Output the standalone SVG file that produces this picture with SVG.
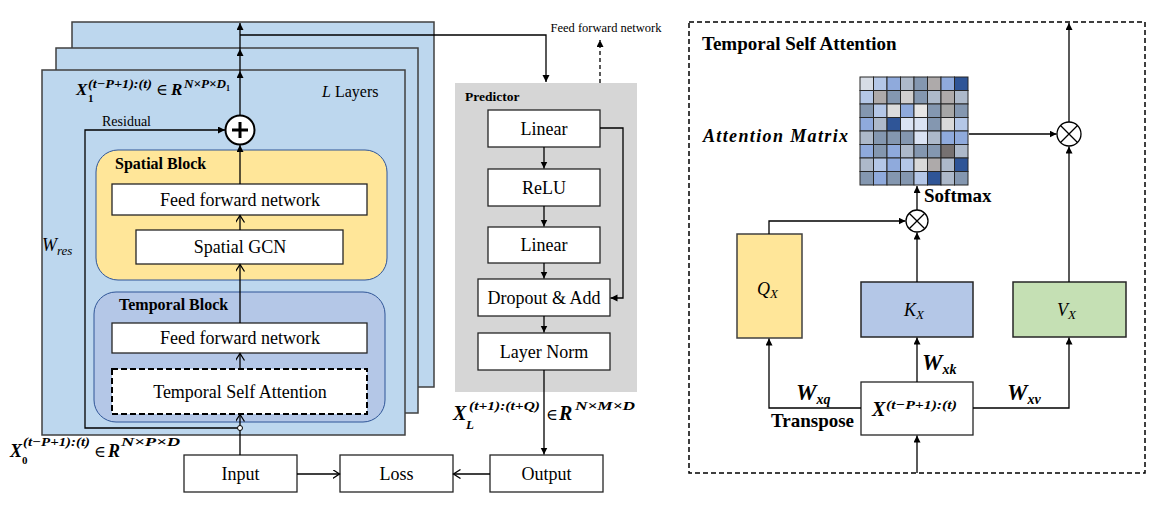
<svg xmlns="http://www.w3.org/2000/svg" width="1154" height="518" viewBox="0 0 1154 518">
<style>
.layer{fill:#BDD7EE;stroke:#404040;stroke-width:1.5}
.box{fill:#fff;stroke:#262626;stroke-width:1.3}
.t{font-family:"Liberation Serif",serif;font-size:18px;text-anchor:middle;fill:#000}
.s{font-family:"Liberation Serif",serif;fill:#000}
.el{font-family:"DejaVu Serif",serif;font-size:16px;fill:#000}
.b{font-weight:bold}
.i{font-style:italic}
.ln{stroke:#000;stroke-width:1.3;fill:none}
.fa{marker-end:url(#af)}
.oa{marker-end:url(#ao)}
.grid rect{stroke:#262626;stroke-width:1}
</style>
<defs>
<marker id="af" markerUnits="userSpaceOnUse" markerWidth="8" markerHeight="8" refX="7" refY="3.5" orient="auto"><path d="M0,0 L7,3.5 L0,7 z" fill="#000"/></marker>
<marker id="ao" markerUnits="userSpaceOnUse" markerWidth="9" markerHeight="10" refX="7" refY="4.5" orient="auto"><path d="M0,0 L7,4.5 L0,9" fill="none" stroke="#000" stroke-width="1.3"/></marker>
</defs>
<rect width="1154" height="518" fill="#fff"/>

<g id="layers">
<rect class="layer" x="72" y="22" width="362" height="365"/>
<rect class="layer" x="56" y="48" width="362" height="365"/>
<rect class="layer" x="42" y="70" width="363" height="365"/>
</g>

<g id="layer-labels">
<text class="s i" x="322" y="97" font-size="16">L<tspan font-style="normal"> Layers</tspan></text>
<text class="s" x="102" y="126" font-size="14">Residual</text>
<text class="s i" x="42" y="251" font-size="18">W<tspan font-size="13" dy="4">res</tspan></text>
<text class="s b i" x="76" y="95" font-size="17">X</text>
<text class="s b" x="88" y="102" font-size="11">1</text>
<text class="s b i" x="88" y="88" font-size="12.5" textLength="64" lengthAdjust="spacingAndGlyphs">(t−P+1):(t)</text>
<text class="el" x="156" y="95">∈</text>
<text class="s b i" x="171" y="95" font-size="17">R</text>
<text class="s b i" x="184" y="88" font-size="12.5" textLength="42" lengthAdjust="spacingAndGlyphs">N×P×D</text>
<text class="s b" x="226" y="91" font-size="8">1</text>
</g>

<g id="plus">
<circle cx="240" cy="130" r="14.5" fill="#fff" stroke="#000" stroke-width="2"/>
<path d="M232,130 H248 M240,122 V138" stroke="#000" stroke-width="3"/>
</g>

<g id="spatial-block">
<rect x="96" y="150" width="291" height="130" rx="22" fill="#FFE699" stroke="#2F5597" stroke-width="1"/>
<text class="s b" x="115" y="169" font-size="16">Spatial Block</text>
</g>
<g id="spatial-ffn"><rect class="box" x="112" y="184" width="255" height="31"/><text class="t" x="240" y="206">Feed forward network</text></g>
<g id="spatial-gcn"><rect class="box" x="136" y="230" width="207" height="34"/><text class="t" x="240" y="253">Spatial GCN</text></g>

<g id="temporal-block">
<rect x="94" y="292" width="291" height="130" rx="22" fill="#B4C7E7" stroke="#2F5597" stroke-width="1"/>
<text class="s b" x="119" y="310" font-size="16">Temporal Block</text>
</g>
<g id="temporal-ffn"><rect class="box" x="112" y="323" width="255" height="30"/><text class="t" x="240" y="344">Feed forward network</text></g>
<g id="tsa-box"><rect x="112" y="369" width="255" height="45" fill="#fff" stroke="#000" stroke-width="2" stroke-dasharray="6,3"/><text class="t" x="240" y="398">Temporal Self Attention</text></g>

<g id="x0-label">
<text class="s b i" x="10" y="457" font-size="18">X</text>
<text class="s b" x="22" y="464" font-size="11">0</text>
<text class="s b i" x="23" y="446" font-size="12.5" textLength="67" lengthAdjust="spacingAndGlyphs">(t−P+1):(t)</text>
<text class="el" x="94" y="457">∈</text>
<text class="s b i" x="108" y="457" font-size="18">R</text>
<text class="s b i" x="121" y="446" font-size="12.5" textLength="59" lengthAdjust="spacingAndGlyphs">N×P×D</text>
</g>

<g id="input"><rect class="box" x="184" y="455" width="113" height="37"/><text class="t" x="240.5" y="480">Input</text></g>
<g id="loss"><rect class="box" x="340" y="455" width="113" height="37"/><text class="t" x="396.5" y="480">Loss</text></g>
<g id="output"><rect class="box" x="490" y="455" width="113" height="37"/><text class="t" x="546.5" y="480">Output</text></g>

<g id="predictor">
<rect x="455" y="83" width="182" height="309" fill="#D6D6D6"/>
<text class="s b" x="465" y="101" font-size="13.5">Predictor</text>
</g>
<g id="p-linear1"><rect class="box" x="488" y="110" width="112" height="37"/><text class="t" x="544" y="134.5">Linear</text></g>
<g id="p-relu"><rect class="box" x="488" y="169" width="112" height="37"/><text class="t" x="544" y="193.5">ReLU</text></g>
<g id="p-linear2"><rect class="box" x="488" y="227" width="112" height="36"/><text class="t" x="544" y="251">Linear</text></g>
<g id="p-dropout"><rect class="box" x="478" y="279" width="132" height="37"/><text class="t" x="544" y="303.5">Dropout &amp; Add</text></g>
<g id="p-norm"><rect class="box" x="478" y="333" width="132" height="37"/><text class="t" x="544" y="357.5">Layer Norm</text></g>
<text class="s" x="606" y="32" font-size="12.5" text-anchor="middle">Feed forward network</text>

<g id="xl-label">
<text class="s b i" x="453" y="420" font-size="20">X</text>
<text class="s b i" x="466" y="429" font-size="13">L</text>
<text class="s b i" x="469" y="410" font-size="13" textLength="71" lengthAdjust="spacingAndGlyphs">(t+1):(t+Q)</text>
<text class="el" x="546" y="420">∈</text>
<text class="s b i" x="559" y="420" font-size="20">R</text>
<text class="s b i" x="575" y="410" font-size="13" textLength="60" lengthAdjust="spacingAndGlyphs">N×M×D</text>
</g>

<g id="tsa-panel">
<rect x="689" y="22" width="456" height="451" fill="none" stroke="#000" stroke-width="1.5" stroke-dasharray="5,3"/>
<text class="s b" x="702" y="50" font-size="19">Temporal Self Attention</text>
</g>

<g id="attention-matrix" class="grid">
<rect x="860" y="77" width="13.5" height="13.5" fill="#D6DCE5"/><rect x="873.5" y="77" width="13.5" height="13.5" fill="#B4C7E7"/><rect x="887" y="77" width="13.5" height="13.5" fill="#8FAADC"/><rect x="900.5" y="77" width="13.5" height="13.5" fill="#ADB9CA"/><rect x="914" y="77" width="13.5" height="13.5" fill="#8497B0"/><rect x="927.5" y="77" width="13.5" height="13.5" fill="#AEAAAA"/><rect x="941" y="77" width="13.5" height="13.5" fill="#8FAADC"/><rect x="954.5" y="77" width="13.5" height="13.5" fill="#2F5597"/>
<rect x="860" y="90.5" width="13.5" height="13.5" fill="#B4C7E7"/><rect x="873.5" y="90.5" width="13.5" height="13.5" fill="#AEAAAA"/><rect x="887" y="90.5" width="13.5" height="13.5" fill="#8497B0"/><rect x="900.5" y="90.5" width="13.5" height="13.5" fill="#D0CECE"/><rect x="914" y="90.5" width="13.5" height="13.5" fill="#8497B0"/><rect x="927.5" y="90.5" width="13.5" height="13.5" fill="#ADB9CA"/><rect x="941" y="90.5" width="13.5" height="13.5" fill="#AEAAAA"/><rect x="954.5" y="90.5" width="13.5" height="13.5" fill="#ADB9CA"/>
<rect x="860" y="104" width="13.5" height="13.5" fill="#8497B0"/><rect x="873.5" y="104" width="13.5" height="13.5" fill="#B4C7E7"/><rect x="887" y="104" width="13.5" height="13.5" fill="#DCDCDC"/><rect x="900.5" y="104" width="13.5" height="13.5" fill="#8FAADC"/><rect x="914" y="104" width="13.5" height="13.5" fill="#E7E6E6"/><rect x="927.5" y="104" width="13.5" height="13.5" fill="#8497B0"/><rect x="941" y="104" width="13.5" height="13.5" fill="#A6A6A6"/><rect x="954.5" y="104" width="13.5" height="13.5" fill="#8497B0"/>
<rect x="860" y="117.5" width="13.5" height="13.5" fill="#8FAADC"/><rect x="873.5" y="117.5" width="13.5" height="13.5" fill="#ADB9CA"/><rect x="887" y="117.5" width="13.5" height="13.5" fill="#2F5597"/><rect x="900.5" y="117.5" width="13.5" height="13.5" fill="#DAE3F3"/><rect x="914" y="117.5" width="13.5" height="13.5" fill="#DAE3F3"/><rect x="927.5" y="117.5" width="13.5" height="13.5" fill="#8497B0"/><rect x="941" y="117.5" width="13.5" height="13.5" fill="#D9D9D9"/><rect x="954.5" y="117.5" width="13.5" height="13.5" fill="#B4C7E7"/>
<rect x="860" y="131" width="13.5" height="13.5" fill="#ADB9CA"/><rect x="873.5" y="131" width="13.5" height="13.5" fill="#8497B0"/><rect x="887" y="131" width="13.5" height="13.5" fill="#8497B0"/><rect x="900.5" y="131" width="13.5" height="13.5" fill="#8497B0"/><rect x="914" y="131" width="13.5" height="13.5" fill="#DAE3F3"/><rect x="927.5" y="131" width="13.5" height="13.5" fill="#ADB9CA"/><rect x="941" y="131" width="13.5" height="13.5" fill="#8FAADC"/><rect x="954.5" y="131" width="13.5" height="13.5" fill="#8FAADC"/>
<rect x="860" y="144.5" width="13.5" height="13.5" fill="#8FAADC"/><rect x="873.5" y="144.5" width="13.5" height="13.5" fill="#8497B0"/><rect x="887" y="144.5" width="13.5" height="13.5" fill="#8FAADC"/><rect x="900.5" y="144.5" width="13.5" height="13.5" fill="#ADB9CA"/><rect x="914" y="144.5" width="13.5" height="13.5" fill="#8497B0"/><rect x="927.5" y="144.5" width="13.5" height="13.5" fill="#8497B0"/><rect x="941" y="144.5" width="13.5" height="13.5" fill="#767171"/><rect x="954.5" y="144.5" width="13.5" height="13.5" fill="#ADB9CA"/>
<rect x="860" y="158" width="13.5" height="13.5" fill="#ADB9CA"/><rect x="873.5" y="158" width="13.5" height="13.5" fill="#B4C7E7"/><rect x="887" y="158" width="13.5" height="13.5" fill="#8FAADC"/><rect x="900.5" y="158" width="13.5" height="13.5" fill="#B4C7E7"/><rect x="914" y="158" width="13.5" height="13.5" fill="#D9D9D9"/><rect x="927.5" y="158" width="13.5" height="13.5" fill="#AEAAAA"/><rect x="941" y="158" width="13.5" height="13.5" fill="#ADB9CA"/><rect x="954.5" y="158" width="13.5" height="13.5" fill="#2F5597"/>
<rect x="860" y="171.5" width="13.5" height="13.5" fill="#8497B0"/><rect x="873.5" y="171.5" width="13.5" height="13.5" fill="#8FAADC"/><rect x="887" y="171.5" width="13.5" height="13.5" fill="#8497B0"/><rect x="900.5" y="171.5" width="13.5" height="13.5" fill="#8497B0"/><rect x="914" y="171.5" width="13.5" height="13.5" fill="#B4C7E7"/><rect x="927.5" y="171.5" width="13.5" height="13.5" fill="#2F5597"/><rect x="941" y="171.5" width="13.5" height="13.5" fill="#ADB9CA"/><rect x="954.5" y="171.5" width="13.5" height="13.5" fill="#8497B0"/>
</g>
<text class="s b i" x="703" y="142" font-size="18" textLength="145" lengthAdjust="spacing">Attention Matrix</text>
<text class="s b" x="924" y="202" font-size="19">Softmax</text>

<g id="mul-softmax">
<circle cx="917" cy="221" r="11" fill="#fff" stroke="#000" stroke-width="1.3"/>
<path d="M909.2,213.2 L924.8,228.8 M924.8,213.2 L909.2,228.8" stroke="#000" stroke-width="1.3"/>
</g>
<g id="mul-value">
<circle cx="1069" cy="134" r="12" fill="#fff" stroke="#000" stroke-width="1.3"/>
<path d="M1060.5,125.5 L1077.5,142.5 M1077.5,125.5 L1060.5,142.5" stroke="#000" stroke-width="1.3"/>
</g>

<g id="q-box"><rect x="737" y="234" width="65" height="104" fill="#FFE699" stroke="#404040" stroke-width="1.5"/><text class="s i" x="757" y="295" font-size="18">Q<tspan font-size="13" dy="3">X</tspan></text></g>
<g id="k-box"><rect x="861" y="282" width="112" height="55" fill="#B4C7E7" stroke="#262626" stroke-width="1.5"/><text class="s i" x="904" y="316" font-size="18">K<tspan font-size="13" dy="3">X</tspan></text></g>
<g id="v-box"><rect x="1013" y="282" width="113" height="55" fill="#C5E0B4" stroke="#262626" stroke-width="1.5"/><text class="s i" x="1057" y="316" font-size="18">V<tspan font-size="13" dy="3">X</tspan></text></g>
<g id="x-box"><rect class="box" x="861" y="382" width="112" height="53"/>
<text class="s b i" x="872" y="416" font-size="20">X</text>
<text class="s b i" x="886" y="409" font-size="13" textLength="71" lengthAdjust="spacingAndGlyphs">(t−P+1):(t)</text>
</g>

<g id="weight-labels">
<text class="s b i" x="796" y="400" font-size="23">W<tspan font-size="14" dy="4">xq</tspan></text>
<text class="s b i" x="922" y="370" font-size="23">W<tspan font-size="14" dy="4">xk</tspan></text>
<text class="s b i" x="1007" y="400" font-size="23">W<tspan font-size="14" dy="4">xv</tspan></text>
<text class="s b" x="771" y="427" font-size="19">Transpose</text>
</g>

<g id="connectors">
<path class="ln fa" d="M240,115.5 V71"/>
<path class="ln fa" d="M240,71 V49"/>
<path class="ln fa" d="M240,49 V23"/>
<path class="ln fa" d="M240,35 H546 V82"/>
<path class="ln fa" d="M600,83 V40" stroke-dasharray="4,3"/>
<path class="ln fa" d="M240,184 V145"/>
<path class="ln oa" d="M240,230 V215.5"/>
<path class="ln oa" d="M240,323 V264.5"/>
<path class="ln oa" d="M240,369 V353.5"/>
<path class="ln oa" d="M240,455 V414.5"/>
<path class="ln fa" d="M237.5,428 H85 V130 H225"/>
<circle cx="240" cy="428" r="2.5" fill="#fff" stroke="#000" stroke-width="1"/>
<path class="ln oa" d="M297,474 H339.5"/>
<path class="ln oa" d="M490,474 H453.5"/>
<path class="ln fa" d="M544,147 V168.5"/>
<path class="ln fa" d="M544,206 V226.5"/>
<path class="ln fa" d="M544,263 V278.5"/>
<path class="ln fa" d="M544,316 V332.5"/>
<path class="ln fa" d="M600,128 H623 V298 H610.5"/>
<path class="ln fa" d="M544,370 V454.5"/>
<path class="ln fa" d="M969,134 H1056.5"/>
<path class="ln fa" d="M1069,122 V23"/>
<path class="ln fa" d="M1069,282 V146.5"/>
<path class="ln fa" d="M917,210 V186"/>
<path class="ln fa" d="M769,234 V221 H905.5"/>
<path class="ln fa" d="M917,282 V232.5"/>
<path class="ln fa" d="M917,382 V337.5"/>
<path class="ln fa" d="M861,408 H769 V338.5"/>
<path class="ln fa" d="M973,408 H1069 V337.5"/>
<path class="ln fa" d="M917,473 V435.5"/>
</g>
</svg>
